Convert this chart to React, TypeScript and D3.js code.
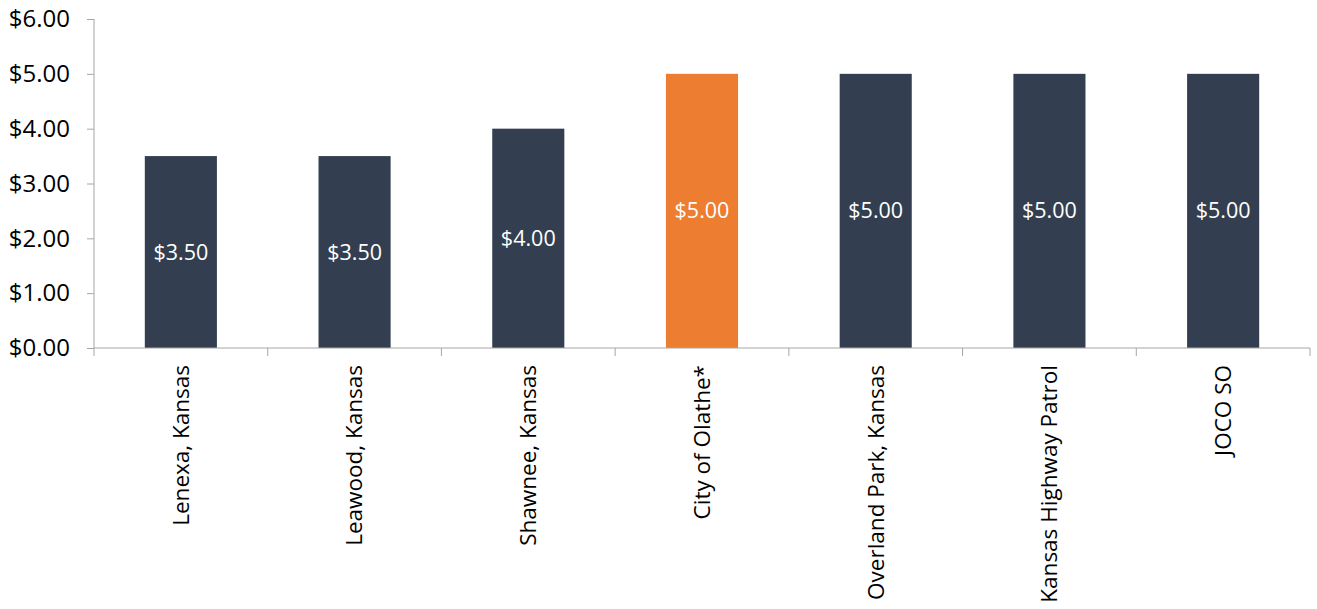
import React, { useEffect, useRef } from 'react';
import * as d3 from 'd3';

const categories = [
  'Lenexa, Kansas',
  'Leawood, Kansas',
  'Shawnee, Kansas',
  'City of Olathe*',
  'Overland Park, Kansas',
  'Kansas Highway Patrol',
  'JOCO SO',
];
const fees = [3.5, 3.5, 4.0, 5.0, 5.0, 5.0, 5.0];
const highlight = 'City of Olathe*';
const yTicks = [0, 1, 2, 3, 4, 5, 6];

const svgWidth = 1317;
const svgHeight = 609;
const font = '"Open Sans", "Noto Sans", sans-serif';

const App: React.FC = () => {
  const svgRef = useRef<SVGSVGElement | null>(null);

  useEffect(() => {
    const margin = { top: 19, right: 7, bottom: 261, left: 94 };
    const width = svgWidth - margin.left - margin.right;
    const height = svgHeight - margin.top - margin.bottom;

    const svg = d3.select(svgRef.current);
    svg.selectAll('*').remove();

    const x = d3.scaleBand<string>().domain(categories).range([0, width]);
    const y = d3.scaleLinear().domain([0, 6]).range([height, 0]);
    const barW = x.bandwidth() * 0.415;

    const g = svg.append('g').attr('transform', `translate(${margin.left},${margin.top})`);

    // 柱子
    g.selectAll('rect.bar')
      .data(fees)
      .enter()
      .append('rect')
      .attr('class', 'bar')
      .attr('x', (_, i) => (x(categories[i]) as number) + (x.bandwidth() - barW) / 2)
      .attr('y', (d) => y(d))
      .attr('width', barW)
      .attr('height', (d) => height - y(d))
      .attr('fill', (_, i) => (categories[i] === highlight ? '#ed7d31' : '#333f50'));

    // 数值标签
    g.selectAll('text.val')
      .data(fees)
      .enter()
      .append('text')
      .attr('class', 'val')
      .attr('x', (_, i) => (x(categories[i]) as number) + x.bandwidth() / 2)
      .attr('y', (d) => (y(d) + height) / 2)
      .attr('dy', '0.35em')
      .attr('text-anchor', 'middle')
      .attr('fill', '#ffffff')
      .style('font-family', font)
      .style('font-size', '21.5px')
      .text((d) => `$${d.toFixed(2)}`);

    // Y轴
    const yAxis = g
      .append('g')
      .call(
        d3
          .axisLeft(y)
          .tickValues(yTicks)
          .tickSize(7)
          .tickPadding(17)
          .tickFormat((d) => `$${(+d).toFixed(2)}`)
      );
    yAxis.select('.domain').attr('stroke', '#a6a6a6').attr('d', `M0,0V${height}`);
    yAxis.selectAll('.tick line').attr('stroke', '#a6a6a6');
    yAxis
      .selectAll('.tick text')
      .attr('fill', '#000')
      .style('font-family', font)
      .style('font-size', '24px');

    // X轴
    const boundaries = d3.range(categories.length + 1).map((i) => i * x.step());
    const xAxis = g.append('g').attr('transform', `translate(0,${height})`);
    xAxis
      .append('path')
      .attr('d', `M0,0H${width}`)
      .attr('stroke', '#a6a6a6')
      .attr('fill', 'none');
    xAxis
      .selectAll('line')
      .data(boundaries)
      .enter()
      .append('line')
      .attr('x1', (d) => d)
      .attr('x2', (d) => d)
      .attr('y1', 0)
      .attr('y2', 8)
      .attr('stroke', '#a6a6a6');
    xAxis
      .selectAll('text')
      .data(categories)
      .enter()
      .append('text')
      .attr(
        'transform',
        (d) => `translate(${(x(d) as number) + x.bandwidth() / 2},17) rotate(-90)`
      )
      .attr('dy', '0.35em')
      .attr('text-anchor', 'end')
      .attr('fill', '#000')
      .style('font-family', font)
      .style('font-size', '22.5px')
      .text((d) => d);
  }, []);

  return (
    <svg
      ref={svgRef}
      width={svgWidth}
      height={svgHeight}
      style={{ position: 'absolute', left: 0, top: 0, background: '#fff' }}
    ></svg>
  );
};

export default App;
